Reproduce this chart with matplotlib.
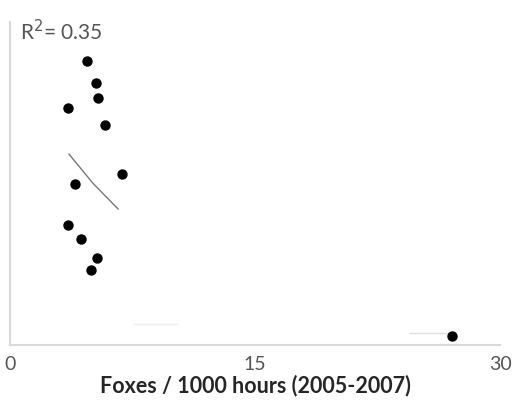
import numpy as np
import matplotlib
matplotlib.use("Agg")
import matplotlib.pyplot as plt

plt.rcParams['font.family'] = ['Lato', 'DejaVu Sans']

# foxes per 1000 hours vs. response (y axis unlabeled, relative 0-100)
fox_x = [4.72, 5.27, 5.39, 3.55, 5.82, 6.86, 3.98, 3.55, 4.35, 5.33, 4.96, 27.07]
resp_y = [87.9, 81.1, 76.5, 73.4, 68.1, 52.9, 49.8, 37.2, 32.8, 26.9, 23.2, 2.8]

# fitted trend line as drawn in the picture
trend_x = [3.61, 5.09, 6.62]
trend_y = [59.1, 50.0, 42.1]
# faint leftovers near the bottom
trend2_x = [24.5, 26.8]
trend2_y = [3.6, 3.6]
trend3_x = [7.6, 10.2]
trend3_y = [6.5, 6.5]

r2_text = "R$^2$= 0.35"
xticks = [0, 15, 30]
xlabel = "Foxes / 1000 hours (2005-2007)"

fig = plt.figure(figsize=(5.14, 4.04), dpi=100, facecolor='white')
ax = fig.add_axes([10/514, 59/404, 490/514, 323/404])

ax.scatter(fox_x, resp_y, s=42, color='black', zorder=3, clip_on=False)
ax.plot(trend_x, trend_y, color='#777777', lw=1.0)
ax.plot(trend2_x, trend2_y, color='#dddddd', lw=1.0)
ax.plot(trend3_x, trend3_y, color='#eeeeee', lw=1.0)

ax.set_xlim(0, 30)
ax.set_ylim(0, 100)
ax.set_xticks(xticks)
ax.set_yticks([])
ax.tick_params(axis='x', length=0, pad=8, labelsize=14, labelcolor='#555555')
for s in ['top', 'right']:
    ax.spines[s].set_visible(False)
for s in ['left', 'bottom']:
    ax.spines[s].set_color('#d9d9d9')
    ax.spines[s].set_linewidth(1.5)

ax.set_xlabel(xlabel, fontsize=15.5, fontweight='bold', color='#262626', labelpad=1)
ax.text(0.6, 97.0, r2_text, fontsize=15, color='#555555', va='center', ha='left')

fig.savefig("out.png", dpi=100)
